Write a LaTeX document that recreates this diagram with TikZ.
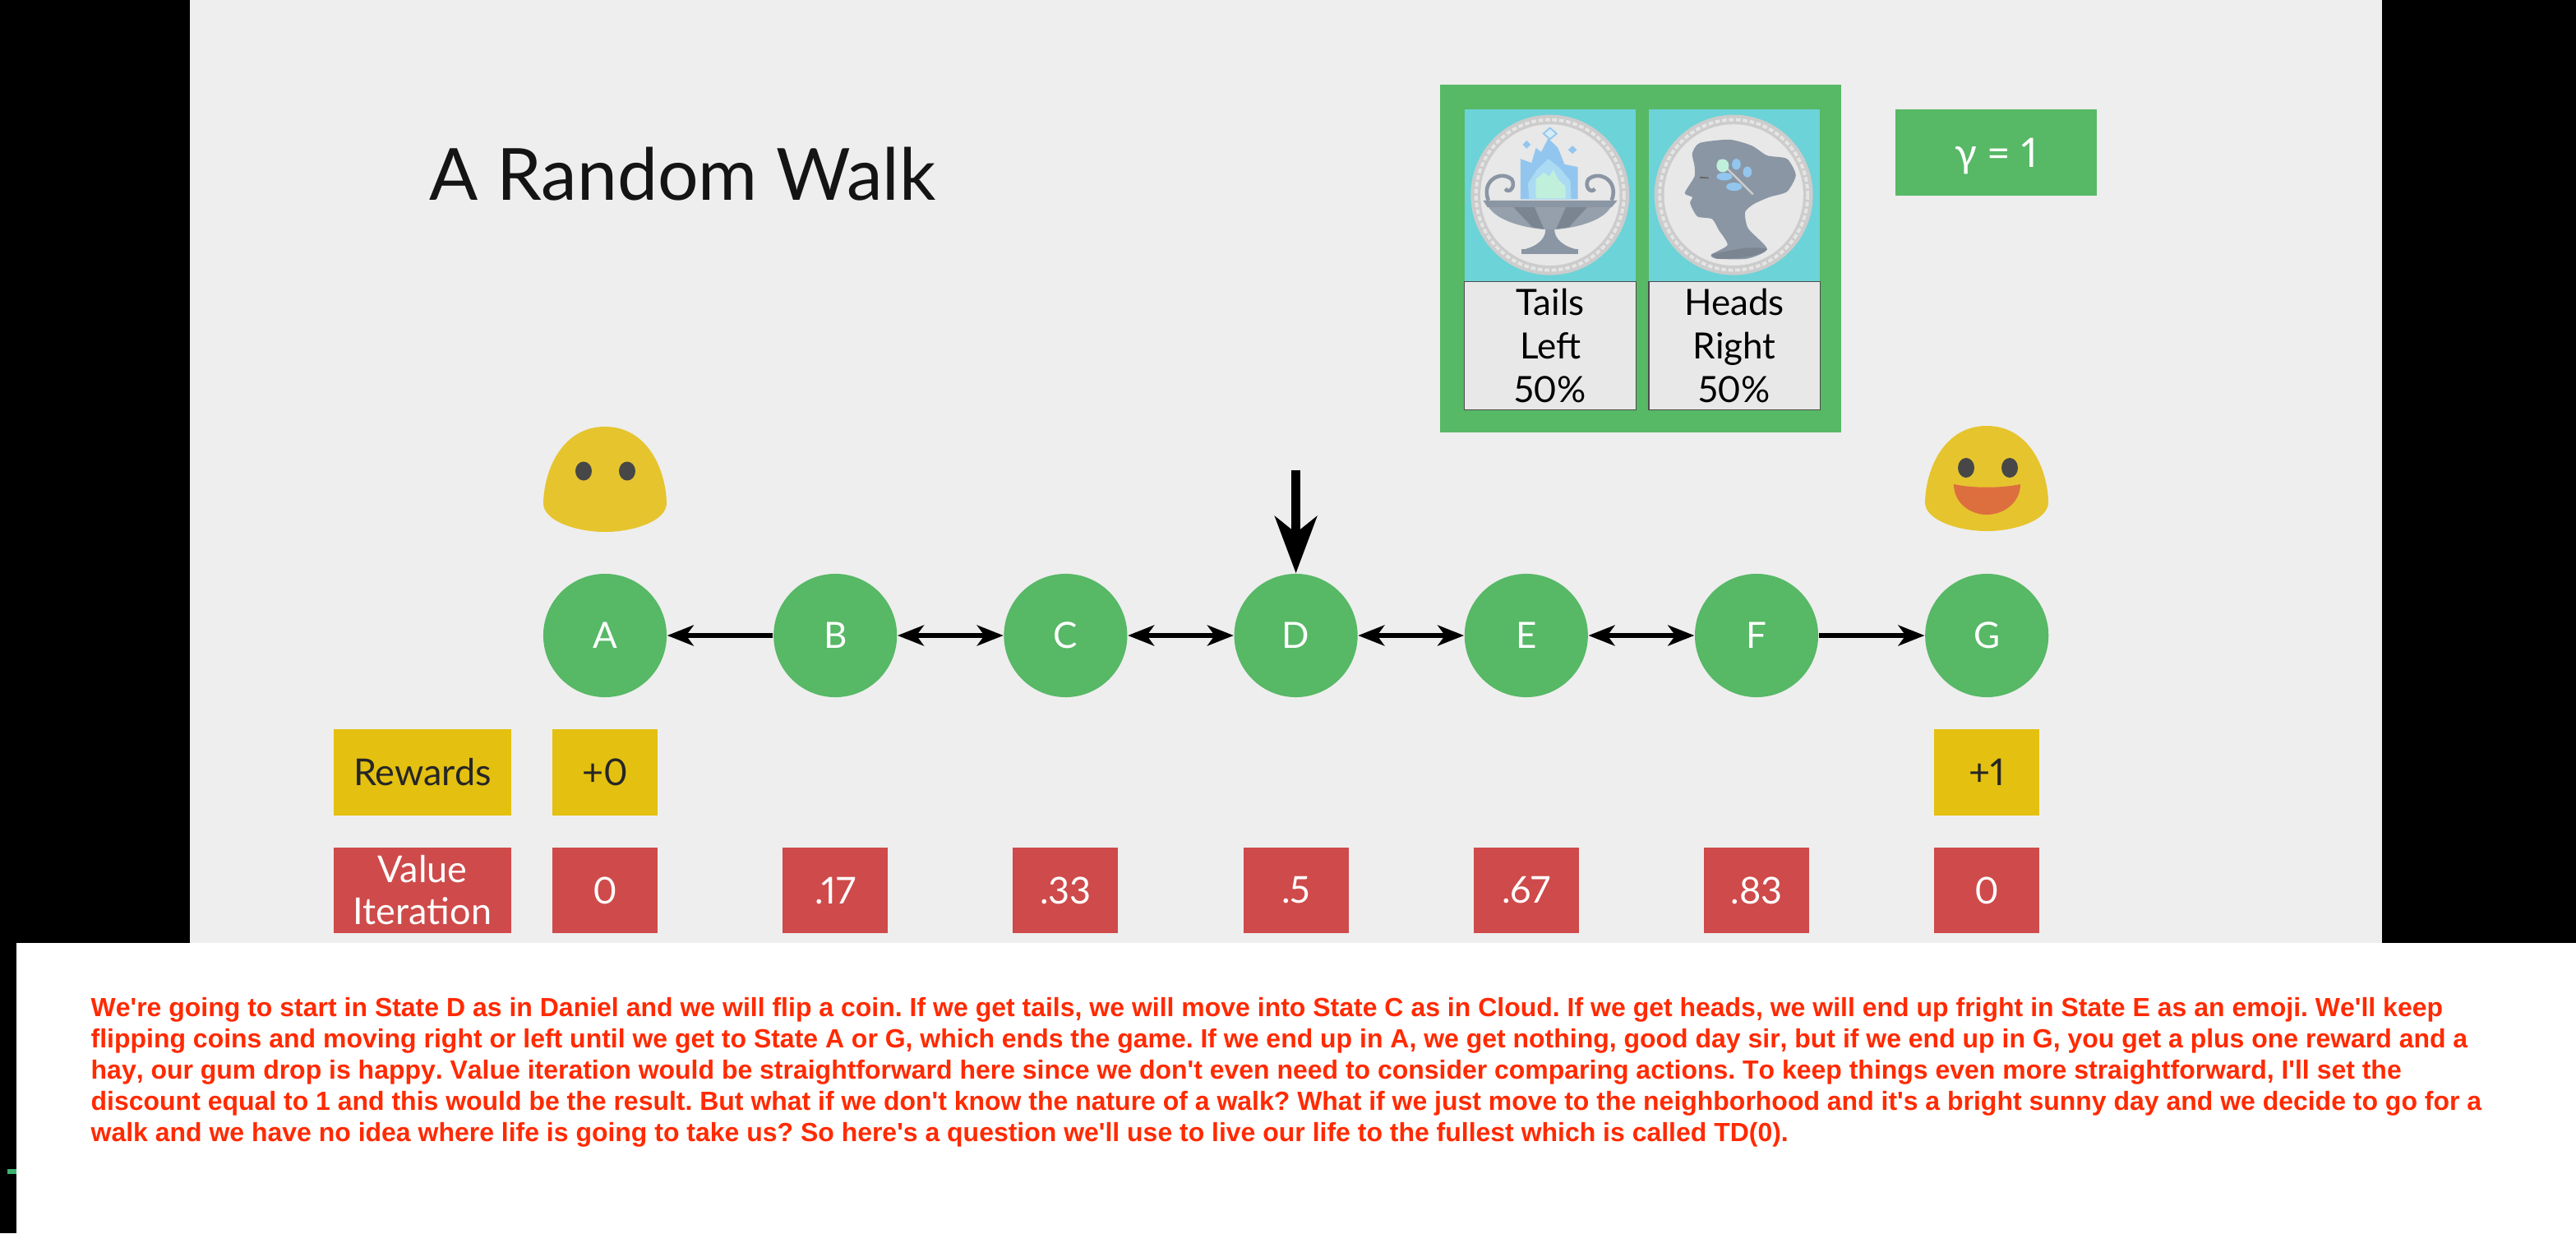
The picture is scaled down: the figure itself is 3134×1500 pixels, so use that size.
\documentclass[tikz,border=0pt]{standalone}
\usepackage{fontspec}
\usetikzlibrary{arrows.meta}
\setmainfont{Lato}[Numbers=Proportional]
\newfontfamily\capfont{Liberation Sans}[BoldFont={Liberation Sans Bold},BoldFeatures={Kerning=Off,Ligatures=NoCommon}]
\definecolor{slidebg}{HTML}{EEEEEE}
\definecolor{gr}{HTML}{57B866}
\definecolor{yl}{HTML}{E4C010}
\definecolor{rd}{HTML}{CF4A4A}
\definecolor{gum}{HTML}{E6C42E}
\definecolor{teal}{HTML}{6CD3D8}
\definecolor{capred}{HTML}{FF2A00}
\definecolor{slate}{HTML}{8A96A4}
\definecolor{slated}{HTML}{7A8591}
\definecolor{flame}{HTML}{93C6EE}
\definecolor{flamem}{HTML}{ABDAF3}
\definecolor{mint}{HTML}{C0F0DC}
\definecolor{tick}{HTML}{3CB371}
\definecolor{mouth}{HTML}{DD6F3E}
\tikzset{
  state/.style={circle,fill=gr,minimum size=1.5cm,inner sep=0pt,text=white,font=\fontsize{12.5}{15}\selectfont},
  rew/.style={rectangle,fill=yl,minimum width=1.28cm,minimum height=1.04cm,inner sep=0pt,text=black!85,font=\fontsize{12.8}{15}\selectfont},
  val/.style={rectangle,fill=rd,minimum width=1.28cm,minimum height=1.04cm,inner sep=0pt,text=white,font=\fontsize{12.8}{15}\selectfont},
  lab/.style={minimum width=2.16cm,align=center},
  coinbox/.style={rectangle,fill=teal,minimum width=2.08cm,minimum height=2.09cm,inner sep=0pt},
  txtbox/.style={rectangle,fill=black!9,draw=black!70,line width=.3pt,minimum width=2.08cm,minimum height=1.56cm,inner sep=0pt,align=center,font=\fontsize{12.5}{15.1}\selectfont},
  arr/.style={line width=1.5pt,-{Stealth[length=.32cm,width=.25cm,inset=.09cm]}},
  darr/.style={line width=1.5pt,{Stealth[length=.32cm,width=.25cm,inset=.09cm]}-{Stealth[length=.32cm,width=.25cm,inset=.09cm]}},
}
\begin{document}
\begin{tikzpicture}[x=0.01cm,y=-0.01cm]
\useasboundingbox (0,0) rectangle (3134,1500);
\fill[black] (0,0) rectangle (3134,1500);
\fill[slidebg] (231,0) rectangle (2898,1147);
\fill[white] (20,1147) rectangle (3134,1500);
\fill[tick] (9,1422) rectangle (20,1428);

% title
\node[anchor=base west,inner sep=0pt,font=\fontsize{24.9}{30}\selectfont,text=black!92] (title) at (522,243) {A Random Walk};

% coin panel
\node[rectangle,fill=gr,minimum width=4.88cm,minimum height=4.23cm,inner sep=0pt] (panel) at (1996,314.5) {};
\node[coinbox] (coinL) at (1886,237.5) {};
\node[coinbox] (coinR) at (2110,237.5) {};
\node[txtbox] (tL) at (1886,420.5) {Tails\\Left\\50\%};
\node[txtbox] (tR) at (2110,420.5) {Heads\\Right\\50\%};
\node[rectangle,fill=gr,minimum width=2.45cm,minimum height=1.05cm,inner sep=0pt,text=white,text height=10pt,text depth=0pt,font=\fontsize{14}{16}\selectfont] (gamma) at (2428.5,185.5) {γ = 1};

\begin{scope}[shift={(1740,90)},x=0.005357cm,y=-0.003333cm]
  % tails coin
  \fill[black!20] (272,442) ellipse [x radius=180,y radius=293];
  \draw[black!10,line width=1.1pt,dash pattern=on 1.6pt off .8pt] (272,442) ellipse [x radius=168,y radius=275];
  \fill[black!9] (272,442) ellipse [x radius=158,y radius=258];
  \fill[flame] (205,458)--(205,310)--(230,325)--(240,270)--(252,285)--(268,235)--(290,270)--(305,330)--(335,340)--(335,458)--cycle;
  \fill[flamem] (225,458)--(222,400)--(242,350)--(268,310)--(295,345)--(318,390)--(320,458)--cycle;
  \fill[mint] (240,455)--(240,385)--(258,360)--(270,375)--(280,350)--(290,385)--(307,410)--(307,455)--cycle;
  \filldraw[fill=flamem!50,draw=flame,line width=.5pt] (272,197)--(287,218)--(272,238)--(257,218)--cycle;
  \fill[flame] (219,243)--(228,258)--(219,273)--(210,258)--cycle;
  \fill[flame] (323,262)--(333,277)--(323,292)--(313,277)--cycle;
  \draw[slate,line width=1.3pt] (132,462) .. controls (115,390) and (160,350) .. (185,385) .. controls (195,410) and (180,440) .. (170,420);
  \draw[slate,line width=1.3pt] (412,462) .. controls (429,390) and (384,350) .. (359,385) .. controls (349,410) and (364,440) .. (374,420);
  \fill[slate!90] (130,480) .. controls (150,540) and (220,565) .. (272,570) .. controls (325,565) and (395,540) .. (412,480) -- cycle;
  \fill[slated] (185,480)--(235,480)--(258,566)--(232,560)--cycle;
  \fill[slated] (310,480)--(360,480)--(315,560)--(286,566)--cycle;
  \fill[slate] (120,462)--(425,462)--(412,487)--(130,487)--cycle;
  \fill[slate] (262,568) .. controls (262,600) and (245,630) .. (210,642) -- (335,642) .. controls (300,630) and (282,600) .. (282,568) -- cycle;
  \fill[slate] (208,640) rectangle (335,657);
  % heads coin
  \fill[black!20] (689,442) ellipse [x radius=180,y radius=293];
  \draw[black!10,line width=1.1pt,dash pattern=on 1.6pt off .8pt] (689,442) ellipse [x radius=168,y radius=275];
  \fill[black!9] (689,442) ellipse [x radius=158,y radius=258];
  \fill[slate] plot[smooth cycle,tension=.4] coordinates {(600,335) (595,290) (612,252) (680,240) (730,262) (765,298) (810,310) (830,370) (810,430) (770,450) (735,475) (715,505) (722,565) (765,640) (720,675) (650,675) (638,660) (675,625) (655,570) (640,530) (608,522) (596,495) (590,470) (595,450) (578,435) (600,375)};
  \fill[slated] (638,660) .. controls (680,645) and (730,625) .. (765,640) .. controls (750,665) and (700,678) .. (650,675) -- cycle;
  \draw[black!60,line width=.5pt] (612,378) -- (632,380);
  \draw[black!20,line width=.7pt] (655,315) -- (733,440);
  \fill[mint] (664,335) ellipse [x radius=14,y radius=24];
  \fill[flame] (668,375) ellipse [x radius=18,y radius=14];
  \fill[flame] (695,330) ellipse [x radius=10,y radius=20];
  \fill[flame] (690,412) ellipse [x radius=18,y radius=15];
  \fill[flame] (720,358) ellipse [x radius=10,y radius=20];
\end{scope}

% gumdrops
\fill[gum] (661,612) .. controls (662,570) and (685,519) .. (736,519) .. controls (787,519) and (810,570) .. (811,612) .. controls (811,634) and (770,647) .. (736,647) .. controls (702,647) and (661,634) .. (661,612) -- cycle;
\fill[black!72] (710,573) ellipse [x radius=10,y radius=11.5];
\fill[black!72] (763,573) ellipse [x radius=10,y radius=11.5];
\fill[gum] (2342,611) .. controls (2343,569) and (2366,518) .. (2417,518) .. controls (2468,518) and (2491,569) .. (2492,611) .. controls (2492,633) and (2451,646) .. (2417,646) .. controls (2383,646) and (2342,633) .. (2342,611) -- cycle;
\fill[black!72] (2392,569) ellipse [x radius=10,y radius=12];
\fill[black!72] (2445,569) ellipse [x radius=10,y radius=12];
\fill[mouth] (2377,589) .. controls (2400,594) and (2434,594) .. (2458,589) .. controls (2458,612) and (2437,626) .. (2417,626) .. controls (2397,626) and (2377,612) .. (2377,589) -- cycle;

% states
\node[state] (A) at (736,773) {A};
\node[state] (B) at (1016.2,773) {B};
\node[state] (C) at (1296.4,773) {C};
\node[state] (D) at (1576.6,773) {D};
\node[state] (E) at (1856.8,773) {E};
\node[state] (F) at (2137,773) {F};
\node[state] (G) at (2417.2,773) {G};
\draw[arr] (B) -- (A);
\draw[darr] (B) -- (C);
\draw[darr] (C) -- (D);
\draw[darr] (D) -- (E);
\draw[darr] (E) -- (F);
\draw[arr] (F) -- (G);
\coordinate (startpt) at (1576.6,572);
\draw[line width=3pt,-{Stealth[length=.69cm,width=.51cm,inset=.2cm]}] (startpt) -- (D);

% rewards
\node[rew,lab] (rl) at (514,939.5) {Rewards};
\node[rew] (ra) at (736,939.5) {+0};
\node[rew] (rg) at (2417.2,939.5) {+1};
% values
\node[val,lab,font=\fontsize{12.8}{14.5}\selectfont] (vl) at (514,1083) {Value\\Iteration};
\node[val] (va) at (736,1083) {0};
\node[val] (vb) at (1016.2,1083) {.17};
\node[val] (vc) at (1296.4,1083) {.33};
\node[val] (vd) at (1576.6,1083) {.5};
\node[val] (ve) at (1856.8,1083) {.67};
\node[val] (vf) at (2137,1083) {.83};
\node[val] (vg) at (2417.2,1083) {0};

% caption
\node[anchor=north west,inner sep=0pt,align=left,text=capred,font=\capfont\bfseries\frenchspacing\fontsize{9.09}{10.81}\selectfont] (caption) at (110,1213) {{\spaceskip=2.54pt\relax We're going to start in State D as in Daniel and we will flip a coin. If we get tails, we will move into State C as in Cloud. If we get heads, we will end up fright in State E as an emoji. We'll keep}\\
flipping coins and moving right or left until we get to State A or G, which ends the game. If we end up in A, we get nothing, good day sir, but if we end up in G, you get a plus one reward and a\\
hay, our gum drop is happy. Value iteration would be straightforward here since we don't even need to consider comparing actions. To keep things even more straightforward, I'll set the\\
discount equal to 1 and this would be the result. But what if we don't know the nature of a walk? What if we just move to the neighborhood and it's a bright sunny day and we decide to go for a\\
walk and we have no idea where life is going to take us? So here's a question we'll use to live our life to the fullest which is called TD(0).};
\end{tikzpicture}
\end{document}
